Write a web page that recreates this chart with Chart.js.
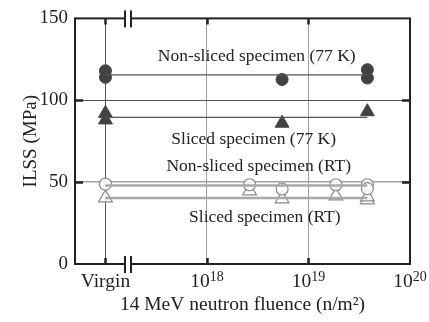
<!DOCTYPE html>
<html>
<head>
<meta charset="utf-8">
<script src="https://cdn.jsdelivr.net/npm/chart.js@4.4.0/dist/chart.umd.min.js"></script>
<style>
  html, body { margin: 0; padding: 0; background: #fff; }
  #wrap { width: 429px; height: 322px; }
</style>
</head>
<body>
<div id="wrap"><canvas id="ilss" width="429" height="322"></canvas></div>
<script>
// x values are log10(fluence); "Virgin" sits at 17
const xTickValues = [17, 18, 19, 20];
const xTickLabels = ["Virgin", "10^18", "10^19", "10^20"];
const yTickValues = [0, 50, 100, 150];

// Non-sliced specimen (77 K)
const ns77X = [17, 17, 18.74, 19.58, 19.58];
const ns77Y = [118, 114, 112.7, 118.7, 113.6];
const ns77Mean = 115.5;
// Sliced specimen (77 K)
const s77X = [17, 17, 18.74, 19.58];
const s77Y = [92, 88, 86, 93];
const s77Mean = 89.5;
// Non-sliced specimen (RT)
const nsRTX = [17, 18.42, 18.74, 19.27, 19.58, 19.58];
const nsRTY = [48.8, 48.4, 45.8, 48.4, 48.4, 46];
const nsRTMean = 48;
// Sliced specimen (RT)
const sRTX = [17, 18.42, 18.74, 19.27, 19.58, 19.58];
const sRTY = [40.4, 44.6, 39.8, 41.6, 39.2, 41];
const sRTMean = 40.3;

const seriesLabels = [
  "Non-sliced specimen (77 K)",
  "Sliced specimen (77 K)",
  "Non-sliced specimen (RT)",
  "Sliced specimen (RT)",
];
// where each label is written, in data units
const labelX = [18.49, 18.46, 18.51, 18.57];
const labelY = [126.5, 76, 59.6, 28.3];

const breakAt = 17.22; // axis break between Virgin and 10^18

const FONT = "'Liberation Serif', 'Times New Roman', serif";

function pts(xs, ys) {
  return xs.map((x, i) => ({ x: x, y: ys[i] }));
}
function meanLine(xs, m) {
  return [{ x: Math.min(...xs), y: m }, { x: Math.max(...xs), y: m }];
}

// frame, inward ticks, axis break, x tick labels, series labels
const decor = {
  id: "decor",
  afterDraw(chart) {
    const { ctx, chartArea: a, scales } = chart;
    const xs = scales.x, ys = scales.y;
    ctx.save();
    ctx.strokeStyle = "#222";
    ctx.lineWidth = 2;
    ctx.strokeRect(a.left, a.top, a.right - a.left, a.bottom - a.top);

    ctx.lineWidth = 2.5;
    ctx.beginPath();
    xTickValues.slice(0, 3).forEach((v) => {
      const px = Math.round(xs.getPixelForValue(v)) + 0.5;
      ctx.moveTo(px, a.top); ctx.lineTo(px, a.top + 6);
      ctx.moveTo(px, a.bottom); ctx.lineTo(px, a.bottom - 6);
    });
    [50, 100].forEach((v) => {
      const py = Math.round(ys.getPixelForValue(v)) + 0.5;
      ctx.moveTo(a.left, py); ctx.lineTo(a.left + 8, py);
      ctx.moveTo(a.right, py); ctx.lineTo(a.right - 8, py);
    });
    ctx.stroke();

    // axis break
    const bx = Math.round(xs.getPixelForValue(breakAt));
    [a.top, a.bottom].forEach((y) => {
      ctx.fillStyle = "#fff";
      ctx.fillRect(bx - 2, y - 3, 5, 6);
      ctx.fillStyle = "#222";
      ctx.fillRect(bx - 4, y - 8, 2, 17);
      ctx.fillRect(bx + 2, y - 8, 2, 17);
    });

    // x tick labels with exponents
    ctx.fillStyle = "#222";
    ctx.textBaseline = "alphabetic";
    xTickValues.forEach((v, i) => {
      const px = xs.getPixelForValue(v);
      const parts = xTickLabels[i].split("^");
      ctx.font = "19.5px " + FONT;
      const w1 = ctx.measureText(parts[0]).width;
      let w2 = 0;
      if (parts[1]) {
        ctx.font = "14px " + FONT;
        w2 = ctx.measureText(parts[1]).width;
      }
      const x0 = px - (w1 + w2) / 2;
      ctx.font = "19.5px " + FONT;
      ctx.textAlign = "left";
      ctx.fillText(parts[0], x0, 287);
      if (parts[1]) {
        ctx.font = "14px " + FONT;
        ctx.fillText(parts[1], x0 + w1, 281);
      }
    });

    // series labels
    ctx.font = "17.5px " + FONT;
    ctx.textAlign = "center";
    ctx.textBaseline = "middle";
    seriesLabels.forEach((t, i) => {
      ctx.fillText(t, xs.getPixelForValue(labelX[i]), ys.getPixelForValue(labelY[i]));
    });
    ctx.restore();
  },
};

const darkPt = "#424242";
const lightPt = "#8a8a8a";

const chart = new Chart(document.getElementById("ilss"), {
  type: "scatter",
  data: {
    datasets: [
      // mean lines
      { data: meanLine(ns77X, ns77Mean), showLine: true, borderColor: "#555", borderWidth: 1.3, pointRadius: 0 },
      { data: meanLine(s77X, s77Mean), showLine: true, borderColor: "#555", borderWidth: 1.3, pointRadius: 0 },
      { data: meanLine(nsRTX, nsRTMean), showLine: true, borderColor: "#a8a8a8", borderWidth: 2.5, pointRadius: 0 },
      { data: meanLine(sRTX, sRTMean), showLine: true, borderColor: "#a8a8a8", borderWidth: 2.5, pointRadius: 0 },
      // measured points
      { data: pts(ns77X, ns77Y), pointStyle: "circle", pointRadius: 6, backgroundColor: darkPt, borderColor: darkPt, borderWidth: 1 },
      { data: pts(s77X, s77Y), pointStyle: "triangle", pointRadius: 8, backgroundColor: darkPt, borderColor: darkPt, borderWidth: 1 },
      { data: pts(nsRTX, nsRTY), pointStyle: "circle", pointRadius: 6, backgroundColor: "rgba(255,255,255,0.85)", borderColor: lightPt, borderWidth: 1.2 },
      { data: pts(sRTX, sRTY), pointStyle: "triangle", pointRadius: 8, backgroundColor: "rgba(255,255,255,0.85)", borderColor: lightPt, borderWidth: 1.2 },
    ],
  },
  options: {
    responsive: false,
    animation: false,
    layout: { padding: { top: 15, right: 19, left: 0, bottom: 0 } },
    plugins: { legend: { display: false }, tooltip: { enabled: false } },
    scales: {
      x: {
        type: "linear",
        min: 16.7,
        max: 20,
        afterBuildTicks: (s) => { s.ticks = xTickValues.map((v) => ({ value: v })); },
        afterFit: (s) => { s.height = 58; },
        ticks: { display: false },
        border: { display: false },
        grid: {
          drawTicks: false,
          color: (c) => (c.tick && c.tick.value === 17 ? "#555" : "#a0a0a0"),
          lineWidth: 1,
        },
        title: {
          display: true,
          text: "14 MeV neutron fluence (n/m²)",
          font: { family: FONT, size: 19.5 },
          color: "#222",
          padding: { top: 0, bottom: 5 },
        },
      },
      y: {
        min: 0,
        max: 150,
        afterBuildTicks: (s) => { s.ticks = yTickValues.map((v) => ({ value: v })); },
        afterFit: (s) => { s.width = 75; },
        ticks: { font: { family: FONT, size: 19 }, color: "#222", padding: 7 },
        border: { display: false },
        grid: {
          drawTicks: false,
          color: (c) => (c.tick && c.tick.value === 100 ? "#555" : "#a0a0a0"),
          lineWidth: (c) => (c.tick && c.tick.value === 50 ? 1.5 : 1),
        },
        title: {
          display: true,
          text: "ILSS (MPa)",
          font: { family: FONT, size: 19 },
          color: "#222",
          padding: { top: 20, bottom: 0 },
        },
      },
    },
  },
  plugins: [decor],
});
</script>
</body>
</html>
